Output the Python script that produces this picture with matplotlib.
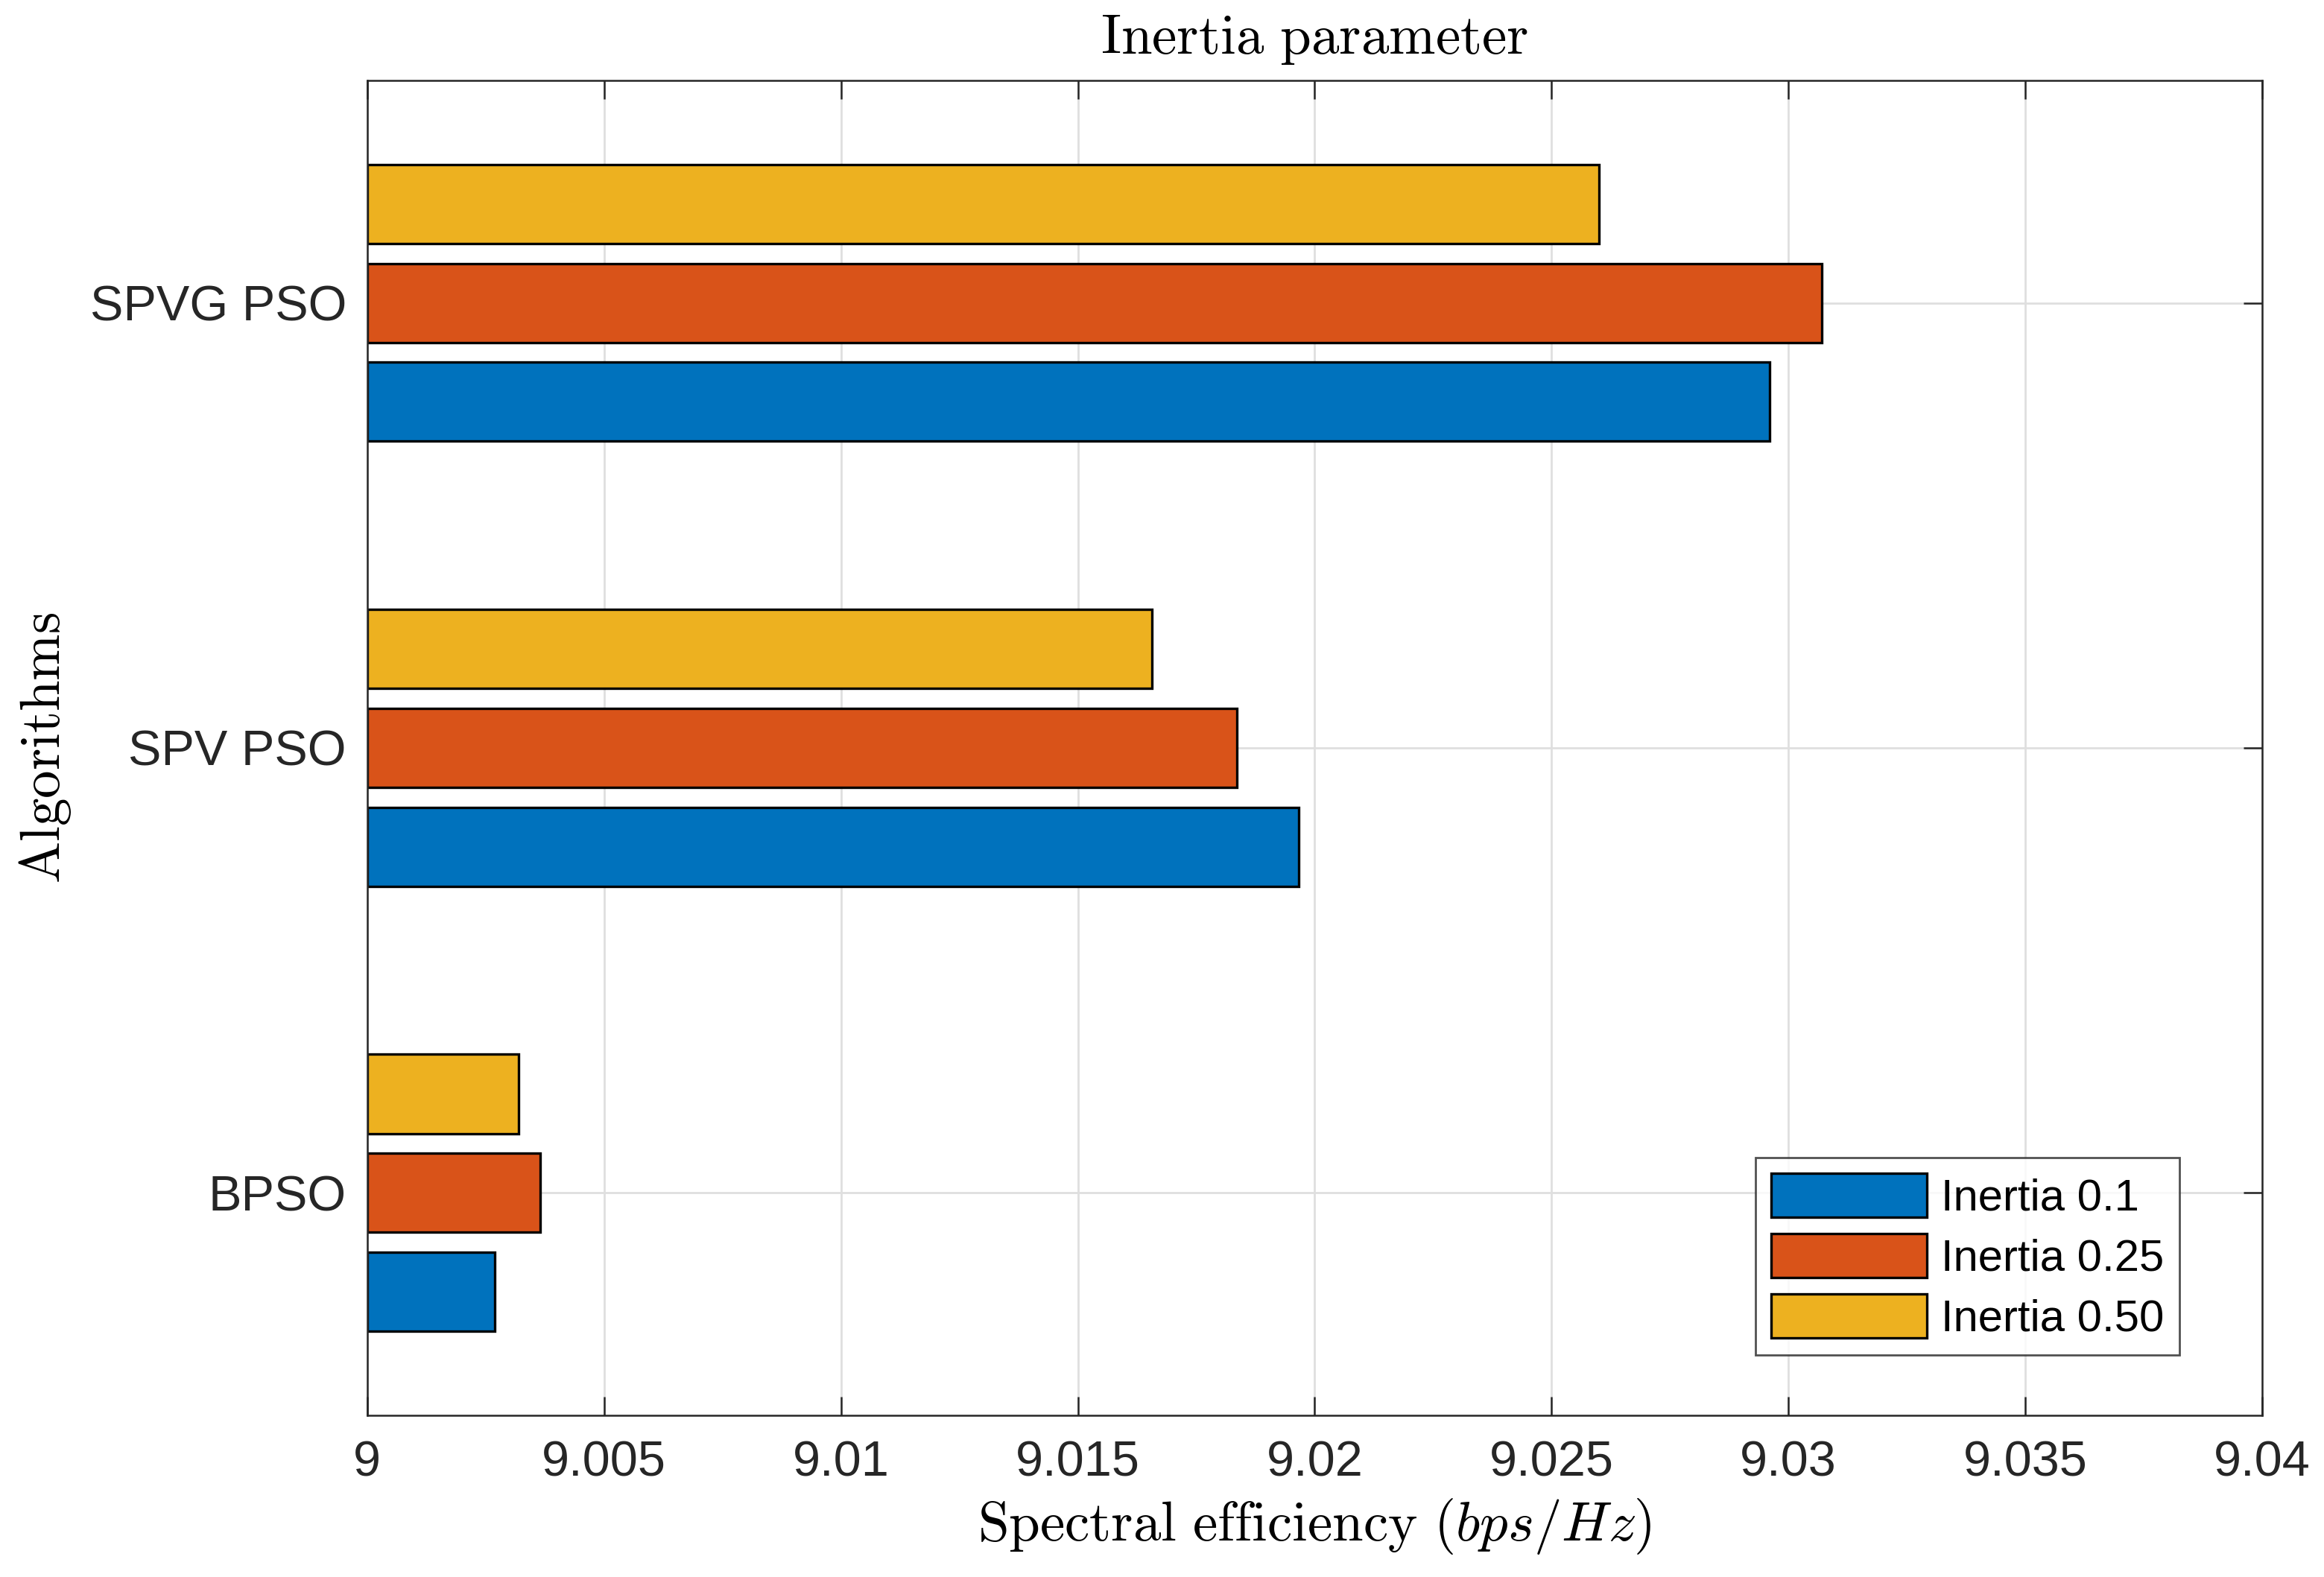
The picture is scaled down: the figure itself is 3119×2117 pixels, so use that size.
import matplotlib
matplotlib.use("Agg")
import matplotlib.pyplot as plt
import numpy as np

# ---- data ----
algorithms = ["BPSO", "SPV PSO", "SPVG PSO"]
series_labels = ["Inertia 0.1", "Inertia 0.25", "Inertia 0.50"]
inertia_010 = [9.0027, 9.01967, 9.0296]
inertia_025 = [9.00365, 9.01835, 9.0307]
inertia_050 = [9.0032, 9.01657, 9.0260]
xticks = [9, 9.005, 9.01, 9.015, 9.02, 9.025, 9.03, 9.035, 9.04]
xtick_labels = ["9", "9.005", "9.01", "9.015", "9.02", "9.025", "9.03", "9.035", "9.04"]

colors = ["#0072BD", "#D95319", "#EDB120"]
axcol = "#262626"

plt.rcParams["mathtext.fontset"] = "cm"
plt.rcParams["font.family"] = ["Liberation Sans", "DejaVu Sans"]

fig = plt.figure(figsize=(3119 / 200, 2117 / 200), dpi=200)
ax = fig.add_axes([0.158, 0.1025, 0.9734 - 0.158, 0.949 - 0.1025])

y = np.arange(1, len(algorithms) + 1)
nser = 3
group_w = min(0.8, nser / (nser + 1.5))
bar_h = group_w / nser * 0.8
offsets = (np.arange(nser) - (nser - 1) / 2) * group_w / nser
base = xticks[0]
for vals, off, col, lab in zip([inertia_010, inertia_025, inertia_050], offsets, colors, series_labels):
    v = np.array(vals)
    ax.barh(y + off, v - base, left=base, height=bar_h, color=col,
            edgecolor="black", linewidth=1.2, label=lab, zorder=2)

ax.set_xlim(xticks[0], xticks[-1])
ax.set_ylim(0.5, 3.5)
ax.set_xticks(xticks)
ax.set_xticklabels(xtick_labels)
ax.set_yticks(y)
ax.set_yticklabels(algorithms)

ax.set_axisbelow(True)
ax.grid(True, color="#dfdfdf", linewidth=1.0, zorder=0)
ax.tick_params(axis="both", direction="in", length=9, width=0.9, color=axcol,
               labelcolor=axcol, labelsize=24, top=True, right=True)
ax.tick_params(axis="x", pad=12)
ax.tick_params(axis="y", pad=10)
for s in ax.spines.values():
    s.set_color(axcol)
    s.set_linewidth(0.9)
    s.set_zorder(3)

ax.set_title(r"$\mathrm{Inertia\ parameter}$", fontsize=27, pad=13, color="black")
ax.set_xlabel(r"$\mathrm{Spectral\ efficiency}\ (bps/Hz)$", fontsize=27, labelpad=5, color="black")
ax.set_ylabel(r"$\mathrm{Algorithms}$", fontsize=27, labelpad=8, color="black")

leg = ax.legend(loc="lower right", bbox_to_anchor=(0.9565, 0.045), borderaxespad=0,
                fontsize=21.5, frameon=True, fancybox=False, handlelength=3.5,
                handleheight=1.14, labelspacing=0.32, borderpad=0.35,
                handletextpad=0.32)
leg.get_frame().set_edgecolor(axcol)
leg.get_frame().set_linewidth(1.0)
for t in leg.get_texts():
    t.set_color("black")

fig.savefig("out.png", dpi=200, facecolor="white")
